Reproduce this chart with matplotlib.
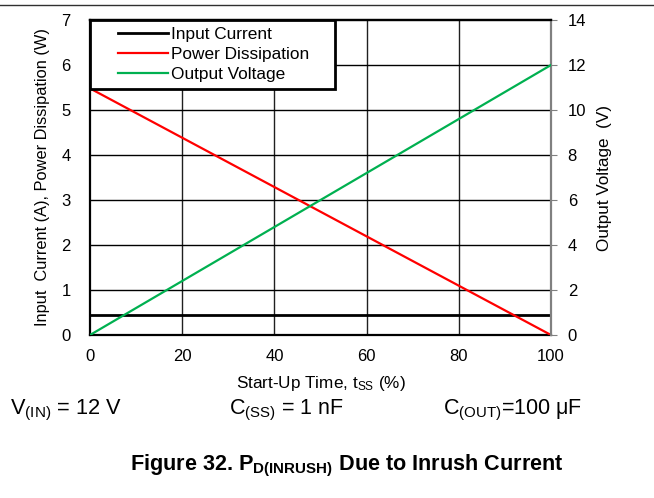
import matplotlib.pyplot as plt
from matplotlib.legend_handler import HandlerLine2D
import numpy as np

plt.rcParams['font.family'] = ['Liberation Sans', 'DejaVu Sans']
plt.rcParams['mathtext.fontset'] = 'custom'
plt.rcParams['mathtext.rm'] = 'Liberation Sans'
plt.rcParams['mathtext.it'] = 'Liberation Sans:italic'
plt.rcParams['mathtext.bf'] = 'Liberation Sans:bold'

# start-up time in percent of t_SS
t_ss = [0, 100]
input_current = [0.45, 0.45]
power_diss = [5.48, 0.0]
output_voltage = [0.0, 12.0]

left_ticks = [0, 1, 2, 3, 4, 5, 6, 7]
right_ticks = [0, 2, 4, 6, 8, 10, 12, 14]
x_ticks = [0, 20, 40, 60, 80, 100]
labels = ['Input Current', 'Power Dissipation', 'Output Voltage']


# legend line drawn only over the right part of the handle box
class IndentedLine(HandlerLine2D):
    def get_xdata(self, legend, xdescent, ydescent, width, height, fontsize):
        x = np.array([-xdescent + 0.3 * width, -xdescent + width])
        return x, x


fig = plt.figure(figsize=(6.54, 4.98), dpi=100)
ax = fig.add_axes([0.1376, 0.3273, 0.7049, 0.6325])
ax2 = ax.twinx()

# grid
for x in x_ticks[1:-1]:
    ax.axvline(x, color='#202020', lw=1.0, zorder=1)
for y in left_ticks[1:-1]:
    ax.axhline(y, color='black', lw=1.0, zorder=1)

l1, = ax.plot(t_ss, input_current, color='black', lw=2.0, zorder=3)
l2, = ax.plot(t_ss, power_diss, color='#ff0000', lw=1.6, zorder=3)
l3, = ax2.plot(t_ss, output_voltage, color='#00b050', lw=1.6, zorder=3)

ax.set_xlim(0, 100)
ax.set_ylim(0, 7)
ax2.set_ylim(0, 14)
ax.set_xticks(x_ticks)
ax.set_yticks(left_ticks)
ax2.set_yticks(right_ticks)

ax.tick_params(axis='both', length=0, labelsize=12, pad=10)
ax.tick_params(axis='y', pad=14)
ax2.tick_params(axis='y', length=4, color='#808080', labelsize=12, pad=8)

for side in ['left', 'top', 'bottom']:
    ax.spines[side].set_linewidth(1.6)
    ax.spines[side].set_color('black')
ax2.spines['top'].set_linewidth(1.6)
ax2.spines['right'].set_color('#808080')
ax2.spines['right'].set_linewidth(1.6)
ax.spines['right'].set_visible(False)
ax2.spines['left'].set_visible(False)
ax2.spines['bottom'].set_visible(False)

ax.set_xlabel('Start-Up Time, t$_{\\mathregular{SS}}$ (%)', fontsize=12.3, labelpad=7)
ax.set_ylabel('Input  Current (A), Power Dissipation (W)', fontsize=11.8, labelpad=8)
ax2.set_ylabel('Output Voltage  (V)', fontsize=12.3, labelpad=8)

leg = ax2.legend([l1, l2, l3], labels,
                 handler_map={l: IndentedLine() for l in (l1, l2, l3)},
                 loc='upper left', bbox_to_anchor=(0.0, 0.0, 0.531, 1.0),
                 mode='expand', borderaxespad=0,
                 fancybox=False, framealpha=1, edgecolor='black', fontsize=12.4,
                 handlelength=4.1, handletextpad=0.2, labelspacing=0.27,
                 borderpad=0.42)
leg.get_frame().set_linewidth(2.0)
leg.set_zorder(5)

# rule at top of page
fig.add_artist(plt.Line2D([0, 1], [0.990, 0.990], color='#303030', lw=1.0))

fig.text(0.015, 0.175, 'V$_{\\mathregular{(IN)}}$ = 12 V', fontsize=15.7, va='center')
fig.text(0.350, 0.175, 'C$_{\\mathregular{(SS)}}$ = 1 nF', fontsize=15.5, va='center')
fig.text(0.677, 0.175, 'C$_{\\mathregular{(OUT)}}$=100 μF', fontsize=15.5, va='center')
fig.text(0.531, 0.064, 'Figure 32. P$_{\\mathbf{D(INRUSH)}}$ Due to Inrush Current',
         fontsize=15.6, fontweight='bold', ha='center', va='center')

fig.savefig('out.png', dpi=100)
